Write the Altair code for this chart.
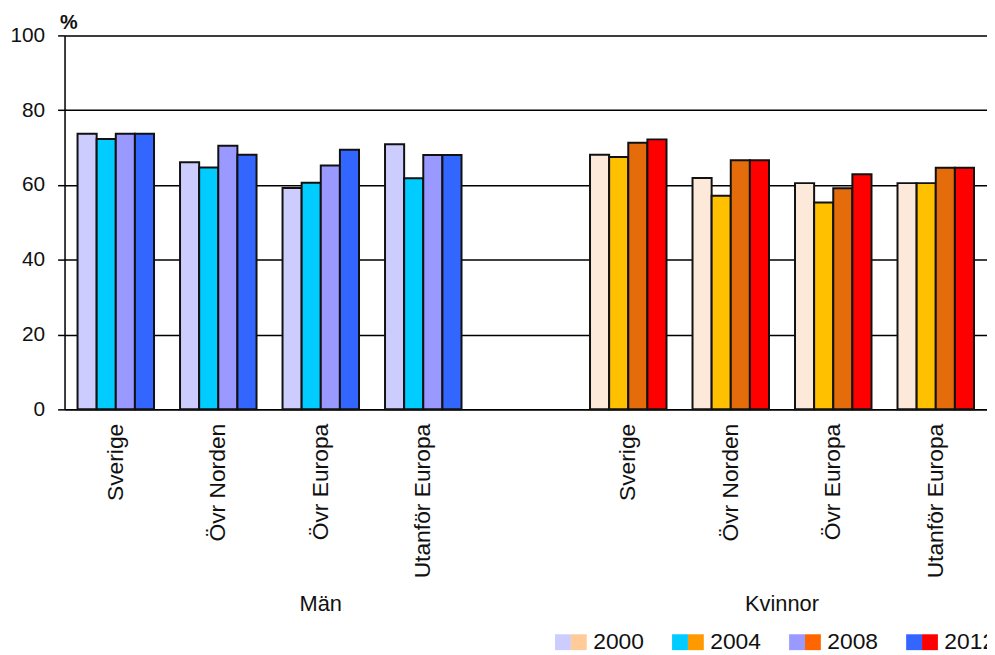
import altair as alt
import pandas as pd

categories = ["Sverige", "Övr Norden", "Övr Europa", "Utanför Europa"]
years = ["2000", "2004", "2008", "2012"]

man_values = {
    "2000": [73.7, 66.1, 59.2, 70.9],
    "2004": [72.3, 64.7, 60.6, 61.8],
    "2008": [73.7, 70.5, 65.2, 68.0],
    "2012": [73.7, 68.1, 69.4, 68.0],
}
kvinnor_values = {
    "2000": [68.1, 61.9, 60.5, 60.5],
    "2004": [67.5, 57.1, 55.3, 60.5],
    "2008": [71.3, 66.6, 59.1, 64.6],
    "2012": [72.2, 66.6, 62.9, 64.6],
}

bar_colors_man = ["#CCCCFF", "#00CCFF", "#9999FF", "#3366FF"]
bar_colors_kvinnor = ["#FDE9D9", "#FFC000", "#E46C0A", "#FF0000"]
legend_colors_man = ["#CCCCFF", "#00CCFF", "#9999FF", "#3366FF"]
legend_colors_kvinnor = ["#FFCC99", "#FF9900", "#FF6600", "#FF0000"]

FONT = "Liberation Sans"

rows = []
for prefix, table in (("M", man_values), ("K", kvinnor_values)):
    for y in years:
        for ci, c in enumerate(categories):
            rows.append({"slot": f"{prefix}|{c}", "year": y, "gender": prefix,
                         "value": table[y][ci], "key": f"{prefix}{y}"})
df = pd.DataFrame(rows)
df_m = df[df["gender"] == "M"]
df_k = df[df["gender"] == "K"]

slots = [f"M|{c}" for c in categories] + ["M|"] + [f"K|{c}" for c in categories]
key_domain = []
bar_range = []
for i, y in enumerate(years):
    key_domain += [f"M{y}", f"K{y}"]
    bar_range += [bar_colors_man[i], bar_colors_kvinnor[i]]

x_enc = alt.X(
    "slot:N",
    scale=alt.Scale(domain=slots, paddingInner=0, paddingOuter=0),
    axis=alt.Axis(labelAngle=-90, labelExpr="split(datum.label, '|')[1]",
                  ticks=False, domainColor="black", domainWidth=1.5,
                  labelFontSize=23, labelPadding=14, labelColor="#111111",
                  labelFont=FONT, grid=False),
    title=None,
)

bars = alt.Chart(df).mark_bar(strokeWidth=2).encode(
    x=x_enc,
    xOffset=alt.XOffset("year:N", scale=alt.Scale(domain=years, paddingInner=0, paddingOuter=0.68)),
    y=alt.Y(
        "value:Q",
        scale=alt.Scale(domain=[0, 100]),
        axis=alt.Axis(values=[0, 20, 40, 60, 80, 100], grid=True, gridColor="black",
                      gridWidth=1.5, domainColor="black", domainWidth=1.5,
                      tickColor="black", tickWidth=1.5, tickSize=7,
                      labelFontSize=21, labelPadding=13, labelColor="#111111",
                      labelFont=FONT, titleAngle=0, titleAlign="left", titleX=-5,
                      titleY=-7, titleFontSize=20, titleFontWeight="bold",
                      titleBaseline="alphabetic", titleFont=FONT, titleColor="#111111"),
        title="%",
    ),
    color=alt.Color("key:N", scale=alt.Scale(domain=key_domain, range=bar_range), legend=None),
    stroke=alt.value("#111111"),
)

LEG_X = 491
LEG_Y = 600

legend_man = alt.Chart(df_m).mark_point(shape="square", filled=True, size=0).encode(
    x=alt.X("slot:N"),
    y=alt.Y("value:Q"),
    color=alt.Color(
        "year:N",
        scale=alt.Scale(domain=years, range=legend_colors_man),
        title=None,
        legend=alt.Legend(
            orient="none", legendX=LEG_X, legendY=LEG_Y, direction="horizontal",
            columns=4, columnPadding=95, labelOffset=0, symbolType="square",
            symbolSize=256, symbolStrokeWidth=0, symbolOpacity=1,
            labelFontSize=23, labelFont=FONT, padding=0, rowPadding=0,
            labelExpr="''",
        ),
    ),
)

legend_kv = alt.Chart(df_k).mark_point(shape="square", filled=True, size=0).encode(
    x=alt.X("slot:N"),
    y=alt.Y("value:Q"),
    color=alt.Color(
        "year:N",
        scale=alt.Scale(domain=years, range=legend_colors_kvinnor),
        title=None,
        legend=alt.Legend(
            orient="none", legendX=LEG_X + 16, legendY=LEG_Y, direction="horizontal",
            columns=4, columnPadding=40, labelOffset=3, symbolType="square",
            symbolSize=256, symbolStrokeWidth=0, symbolOpacity=1,
            labelFontSize=23, labelFont=FONT, labelColor="#111111", padding=0,
            rowPadding=0,
        ),
    ),
)

group_man = pd.DataFrame({"slot": ["M|Övr Europa"], "label": ["Män"]})
group_kv = pd.DataFrame({"slot": ["K|Övr Norden"], "label": ["Kvinnor"]})

text_man = alt.Chart(group_man).mark_text(fontSize=22, font=FONT, color="#111111", baseline="middle").encode(
    x=alt.X("slot:N", bandPosition=0.5), y=alt.value(573), text="label:N")
text_kv = alt.Chart(group_kv).mark_text(fontSize=22, font=FONT, color="#111111", baseline="middle").encode(
    x=alt.X("slot:N", bandPosition=1), y=alt.value(573), text="label:N")

chart = alt.layer(bars, legend_man, legend_kv, text_man, text_kv).resolve_scale(
    color="independent"
).properties(
    width=930, height=377,
    autosize=alt.AutoSizeParams(type="none"),
    padding={"left": 57, "top": 25, "right": 0, "bottom": 245},
).configure_view(stroke=None).configure(background="white")

chart.save("out.html", embed_options={"renderer": "svg", "actions": False})
